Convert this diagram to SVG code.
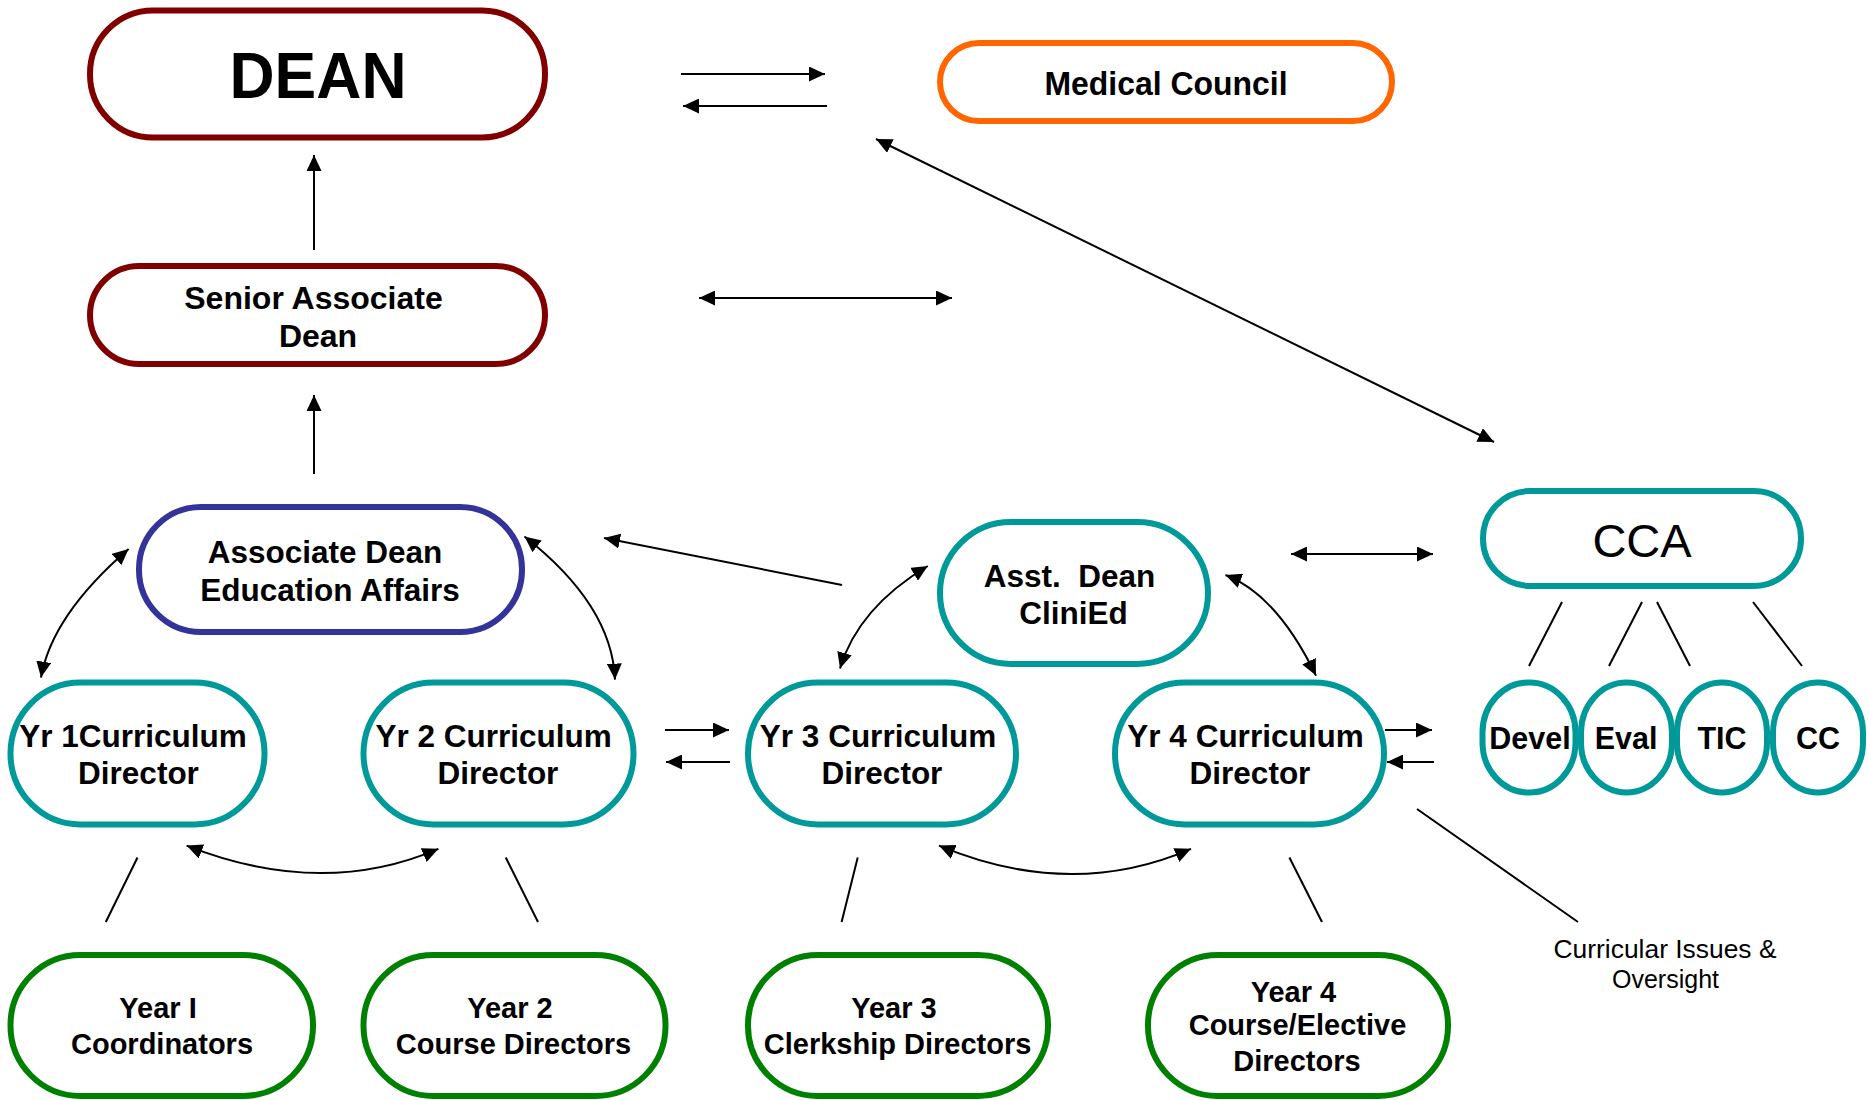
<svg xmlns="http://www.w3.org/2000/svg" width="1868" height="1100" viewBox="0 0 1868 1100">
<defs>
<marker id="ah" markerUnits="userSpaceOnUse" markerWidth="16" markerHeight="15" refX="16" refY="7.5" orient="auto-start-reverse" viewBox="0 0 16 15">
<path d="M0,0 L16,7.5 L0,15 z" fill="#000"/>
</marker>
</defs>
<style>
rect{fill:#fff;stroke-width:6}
.red{stroke:#800000}
.org{stroke:#FF6600}
.blu{stroke:#333399}
.tea{stroke:#009999}
.grn{stroke:#008000}
text{font-family:"Liberation Sans",Arial,sans-serif;font-weight:bold;fill:#000;text-anchor:middle}
.t31{font-size:31.5px}
.t29{font-size:29px}
.t30{font-size:30.5px}
.reg{font-weight:normal}
#connectors line,#connectors path{stroke:#000;stroke-width:2;fill:none}
.a2{marker-start:url(#ah);marker-end:url(#ah)}
.a1{marker-end:url(#ah)}
</style>
<g id="connectors">
<line class="a1" x1="314" y1="250" x2="314" y2="155"/>
<line class="a1" x1="314" y1="474" x2="314" y2="395"/>
<line class="a1" x1="681" y1="74" x2="825" y2="74"/>
<line class="a1" x1="827" y1="106" x2="683" y2="106"/>
<line class="a2" x1="699" y1="298" x2="952" y2="298"/>
<line class="a2" x1="876" y1="139" x2="1494" y2="442"/>
<line class="a1" x1="842" y1="585" x2="604" y2="538"/>
<line class="a2" x1="1291" y1="554" x2="1433" y2="554"/>
<line class="a1" x1="665" y1="730" x2="729" y2="730"/>
<line class="a1" x1="730" y1="762" x2="666" y2="762"/>
<line class="a1" x1="1385" y1="730" x2="1432" y2="730"/>
<line class="a1" x1="1434" y1="762" x2="1387" y2="762"/>
<path class="a2" d="M128.6,549 Q52,615 41,677.6"/>
<path class="a2" d="M524.5,536.5 Q612,605 615,679.6"/>
<path class="a2" d="M186.6,845.6 Q321.5,898.8 438.4,848.8"/>
<path class="a2" d="M927.8,566 Q858,608 840,668.5"/>
<path class="a2" d="M1225.5,575 Q1277,595 1316,675.6"/>
<path class="a2" d="M939,845.6 Q1071,900.8 1191,848.8"/>
<line x1="137.5" y1="857.5" x2="105.8" y2="922"/>
<line x1="505.8" y1="857.5" x2="538" y2="922"/>
<line x1="857.7" y1="857.5" x2="841.6" y2="922"/>
<line x1="1289.4" y1="857.5" x2="1322" y2="922"/>
<line x1="1562" y1="602" x2="1529" y2="666"/>
<line x1="1642" y1="602" x2="1609" y2="666"/>
<line x1="1657" y1="602" x2="1690" y2="666"/>
<line x1="1753" y1="602" x2="1802" y2="666"/>
<line x1="1417" y1="809" x2="1578" y2="922"/>
</g>
<g id="dean">
<rect class="red" x="90" y="10.5" width="455" height="127" rx="63" ry="63"/>
<text x="318" y="98" style="font-size:64px" textLength="177" lengthAdjust="spacingAndGlyphs">DEAN</text>
</g>
<g id="medical-council">
<rect class="org" x="940" y="43" width="452" height="78" rx="39" ry="39"/>
<text x="1166" y="95" style="font-size:32.5px" textLength="243" lengthAdjust="spacingAndGlyphs">Medical Council</text>
</g>
<g id="senior-associate-dean">
<rect class="red" x="90" y="266" width="455" height="98" rx="49" ry="49"/>
<text x="313.5" y="309" style="font-size:32px">Senior Associate</text>
<text x="318" y="347" style="font-size:32px">Dean</text>
</g>
<g id="associate-dean">
<rect class="blu" x="139" y="507" width="383" height="125" rx="62" ry="62"/>
<text class="t31" x="325" y="563">Associate Dean</text>
<text class="t31" x="330" y="600.5">Education Affairs</text>
</g>
<g id="asst-dean">
<rect class="tea" x="940" y="522" width="268" height="142" rx="71" ry="71"/>
<text class="t31" x="1069.5" y="586.7">Asst.&#160; Dean</text>
<text class="t31" x="1073.5" y="624">CliniEd</text>
</g>
<g id="cca">
<rect class="tea" x="1483" y="491" width="318" height="95" rx="47" ry="47"/>
<text class="reg" x="1642" y="557" style="font-size:47px">CCA</text>
</g>
<g id="yr1">
<rect class="tea" x="10.5" y="682.5" width="254" height="142" rx="70" ry="71"/>
<text class="t31" x="133" y="747">Yr 1Curriculum</text>
<text class="t31" x="138.5" y="784">Director</text>
</g>
<g id="yr2">
<rect class="tea" x="363.5" y="682.5" width="270" height="142" rx="70" ry="71"/>
<text class="t31" x="493.7" y="747">Yr 2 Curriculum</text>
<text class="t31" x="498" y="784">Director</text>
</g>
<g id="yr3">
<rect class="tea" x="748" y="682.5" width="268" height="142" rx="70" ry="71"/>
<text class="t31" x="878" y="747">Yr 3 Curriculum</text>
<text class="t31" x="882" y="784">Director</text>
</g>
<g id="yr4">
<rect class="tea" x="1115" y="682.5" width="269" height="142" rx="70" ry="71"/>
<text class="t31" x="1245.5" y="747">Yr 4 Curriculum</text>
<text class="t31" x="1250" y="784">Director</text>
</g>
<g id="devel">
<rect class="tea" x="1482.5" y="682.5" width="93" height="110" rx="46" ry="50"/>
<text class="t30" x="1530" y="748.6">Devel</text>
</g>
<g id="eval">
<rect class="tea" x="1581" y="682.5" width="91" height="110" rx="45.5" ry="50"/>
<text class="t30" x="1626" y="748.6">Eval</text>
</g>
<g id="tic">
<rect class="tea" x="1677" y="682.5" width="90" height="110" rx="45" ry="50"/>
<text class="t30" x="1722" y="748.6">TIC</text>
</g>
<g id="cc">
<rect class="tea" x="1773" y="682.5" width="90" height="110" rx="45" ry="50"/>
<text class="t30" x="1818" y="748.6">CC</text>
</g>
<g id="year1">
<rect class="grn" x="10.5" y="955" width="302.5" height="141" rx="70" ry="70"/>
<text class="t29" x="158" y="1018">Year I</text>
<text class="t29" x="162" y="1054">Coordinators</text>
</g>
<g id="year2">
<rect class="grn" x="363.5" y="955" width="302" height="141" rx="70" ry="70"/>
<text class="t29" x="510" y="1018">Year 2</text>
<text class="t29" x="513.5" y="1054">Course Directors</text>
</g>
<g id="year3">
<rect class="grn" x="748" y="955" width="300" height="141" rx="70" ry="70"/>
<text class="t29" x="894" y="1018">Year 3</text>
<text class="t29" x="897.6" y="1054">Clerkship Directors</text>
</g>
<g id="year4">
<rect class="grn" x="1148" y="955" width="300" height="141" rx="70" ry="70"/>
<text class="t29" x="1293.5" y="1002">Year 4</text>
<text class="t29" x="1297.5" y="1035">Course/Elective</text>
<text class="t29" x="1297" y="1071">Directors</text>
</g>
<g id="curricular-label">
<text class="reg" x="1665" y="957.5" style="font-size:25px" textLength="223" lengthAdjust="spacingAndGlyphs">Curricular Issues &amp;</text>
<text class="reg" x="1665.5" y="988" style="font-size:25px">Oversight</text>
</g>
</svg>
